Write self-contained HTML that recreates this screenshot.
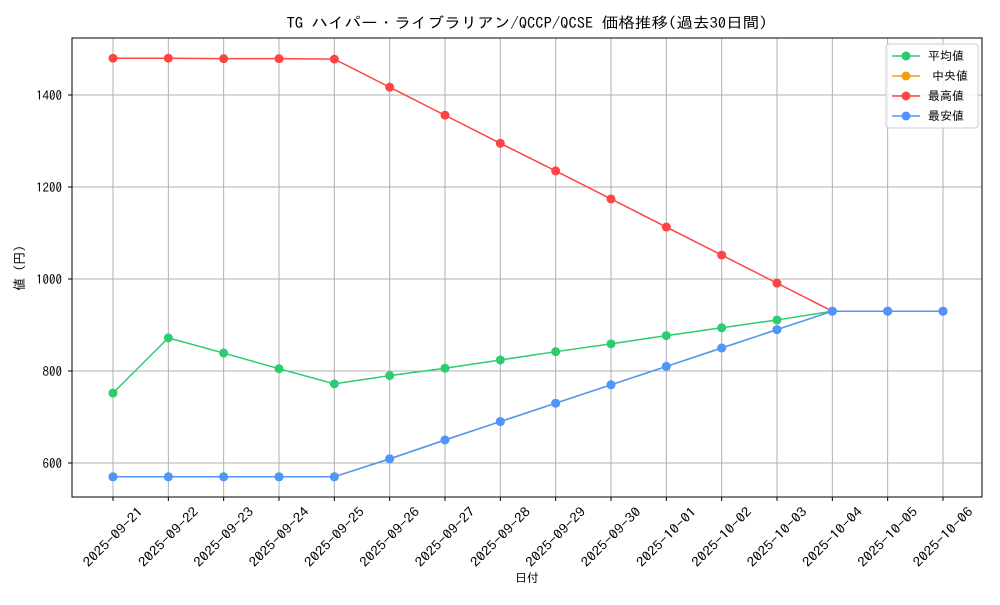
<!DOCTYPE html>
<html><head><meta charset="utf-8">
<style>
body{margin:0;background:#fff;}
svg text{font-family:"IPAGothic","Noto Sans CJK JP",sans-serif;fill:#000;}
</style></head>
<body>
<svg id="chart" width="1000" height="600" xmlns="http://www.w3.org/2000/svg">
<rect width="1000" height="600" fill="#fff"/>
<text x="527" y="28" font-size="15" text-anchor="middle" textLength="481" lengthAdjust="spacingAndGlyphs">TG ハイパー・ライブラリアン/QCCP/QCSE 価格推移(過去30日間)</text>
<g id="grid"></g>
<g id="series"></g>
<rect x="72" y="38" width="910" height="459" fill="none" stroke="#000" stroke-width="1"/>
<g id="axes"></g>
<text x="527" y="582" font-size="12" text-anchor="middle">日付</text>
<text transform="translate(24,268) rotate(-90)" font-size="13" text-anchor="middle">値 (円)</text>
<g id="legend"></g>
</svg>
<script>
const categories=["2025-09-21","2025-09-22","2025-09-23","2025-09-24","2025-09-25","2025-09-26","2025-09-27","2025-09-28","2025-09-29","2025-09-30","2025-10-01","2025-10-02","2025-10-03","2025-10-04","2025-10-05","2025-10-06"];
const avgValues=[752,872,839,805,772,790,806,824,842,859,877,894,911,930,930,930];
const medianValues=[570,570,570,570,570,609,650,690,730,770,810,850,890,930,930,930];
const maxValues=[1480,1480,1479,1479,1478,1417,1356,1295,1235,1174,1113,1052,991,930,930,930];
const minValues=[570,570,570,570,570,609,650,690,730,770,810,850,890,930,930,930];
const yTicks=[600,800,1000,1200,1400];
const seriesNames=["平均値","中央値","最高値","最安値"];
const seriesColors=["#2ecc71","#f39c12","#ff4444","#4d96ff"];

const NS="http://www.w3.org/2000/svg";
function xPos(i){return 113+i*(943-113)/(categories.length-1);}
function yPos(v){return 463-(v-600)*0.46;}
function mk(tag,attrs,parent){const e=document.createElementNS(NS,tag);for(const k in attrs)e.setAttribute(k,attrs[k]);parent.appendChild(e);return e;}
const grid=document.getElementById('grid'),axes=document.getElementById('axes'),ser=document.getElementById('series'),leg=document.getElementById('legend');
categories.forEach((c,i)=>{
  const x=xPos(i);
  const g=mk('line',{x1:x,x2:x,y1:38,y2:497,stroke:'#b0b0b0','stroke-width':1},grid);
  
  
  mk('line',{x1:x,x2:x,y1:497,y2:501,stroke:'#000'},axes);
  const t=mk('text',{x:x,y:537,'font-size':13,'text-anchor':'middle',dy:'0.35em',textLength:78,lengthAdjust:'spacingAndGlyphs',transform:`rotate(-45 ${x} 537)`},axes);
  t.textContent=c;
  
  
});
yTicks.forEach(v=>{
  const y=yPos(v);
  const g=mk('line',{x1:72,x2:982,y1:y,y2:y,stroke:'#b0b0b0','stroke-width':1},grid);
  
  
  mk('line',{x1:68,x2:72,y1:y,y2:y,stroke:'#000'},axes);
  const t=mk('text',{x:62,y:y+5,'font-size':13,'text-anchor':'end'},axes);
  t.textContent=v;
  
  
});
const allSeries=[avgValues,medianValues,maxValues,minValues];
const snames=['avg','median','max','min'];
allSeries.forEach((vals,s)=>{
  const g=mk('g',{},ser);
  
  
  const pl=mk('polyline',{points:vals.map((v,i)=>xPos(i)+','+yPos(v)).join(' '),fill:'none',stroke:seriesColors[s],'stroke-width':1.5},g);
  
  
  vals.forEach((v,i)=>{
    const c=mk('circle',{cx:xPos(i),cy:yPos(v),r:4.5,fill:seriesColors[s]},g);
    
    
  });
});
mk('rect',{x:886,y:44,width:92,height:84,rx:3,fill:'#fff','fill-opacity':0.8,stroke:'#ccc'},leg);
seriesNames.forEach((n,s)=>{
  const y=56+s*20;
  const e=mk('g',{},leg);
  
  
  mk('line',{x1:892,x2:920,y1:y,y2:y,stroke:seriesColors[s],'stroke-width':1.5},e);
  mk('circle',{cx:906,cy:y,r:4.5,fill:seriesColors[s]},e);
  const t=mk('text',{x:(s==1?932:928),y:y+4,'font-size':12},e);
  t.textContent=n;
});
</script>
</body></html>
